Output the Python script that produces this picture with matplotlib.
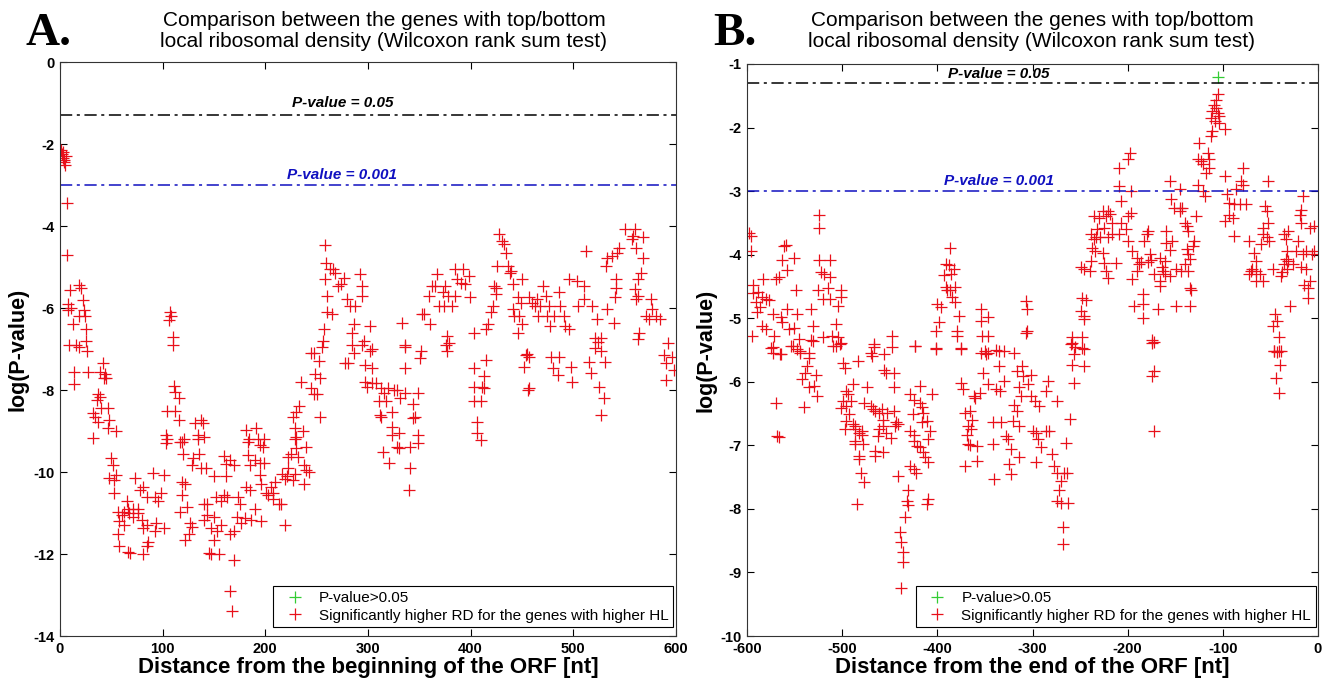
import numpy as np
import matplotlib
matplotlib.use("Agg")
import matplotlib.pyplot as plt

plt.rcParams['font.family'] = ['Liberation Sans', 'DejaVu Sans']
plt.rcParams['axes.unicode_minus'] = False

# Panel A: distance from the beginning of the ORF [nt] vs log(P-value)
a_pts = [
    (1, -2.15), (2, -2.25), (3, -2.35), (4, -2.4), (5, -2.5), (3, -2.2), (4, -2.45), (6, -2.3),
    (7, -3.45), (7, -4.7), (10, -5.55), (8, -5.9), (8, -6.05), (13, -6.4), (16, -6.9), (19, -5.45),
    (21, -5.5), (22, -5.8), (23, -6.05), (24, -6.2), (25, -6.5), (25, -6.8), (26, -7.05), (19, -6.95),
    (19, -6.2), (11, -6.0), (9, -6.9), (14, -7.57), (14, -7.85), (27, -7.55), (42, -7.35), (39, -7.55),
    (44, -7.6), (45, -7.7), (43, -7.7), (37, -8.1), (39, -8.16), (36, -8.24), (32, -8.57), (34, -8.65),
    (40, -8.45), (37, -8.77), (47, -8.45), (48, -8.73), (47, -8.93), (55, -9.0), (32, -9.18),
    (50, -9.67), (52, -9.83), (48, -10.15), (53, -10.2), (55, -10.07), (53, -10.5),
    (57, -10.97), (60, -11.05), (62, -10.97), (58, -11.2), (65, -10.7), (66, -10.9), (57, -11.5),
    (58, -11.8), (66, -11.94), (68, -11.98), (71, -10.9), (73, -10.15), (76, -10.9), (78, -10.44),
    (81, -10.36), (85, -10.6), (80, -11.16), (85, -11.3), (81, -11.37), (85, -11.8), (81, -12.0),
    (86, -11.7), (91, -10.03), (93, -10.6), (96, -10.7), (98, -10.5), (101, -10.07), (94, -11.25),
    (93, -11.45), (101, -11.37), (71, -11.1), (76, -11.0), (62, -11.3), (67, -11.0),
    (104, -8.5), (112, -8.5), (103, -9.1), (104, -9.2), (103, -9.3), (111, -7.9), (112, -8.04),
    (116, -8.2), (116, -8.73), (110, -6.9), (107, -6.1), (106, -6.3), (110, -6.7), (108, -6.2),
    (117, -9.26), (119, -9.26), (121, -9.2), (120, -9.55), (119, -10.24), (122, -10.3), (119, -10.56),
    (117, -10.97), (124, -10.85), (122, -11.65), (126, -11.5), (127, -11.25), (129, -11.33),
    (132, -8.8), (134, -9.1), (134, -9.2), (135, -9.55), (137, -8.73), (139, -8.8), (140, -9.15),
    (130, -9.67), (129, -9.83), (137, -9.9), (142, -9.9), (140, -10.77), (143, -10.77), (143, -11.05),
    (140, -11.16), (147, -11.37), (150, -11.1), (145, -11.98), (147, -12.0), (155, -12.0),
    (150, -11.66), (153, -11.45), (150, -10.1), (152, -10.6), (157, -10.7), (160, -10.56), (160, -9.6),
    (162, -9.8), (162, -10.1), (163, -10.6), (157, -11.3), (166, -11.5), (170, -11.45), (170, -12.15),
    (166, -12.9), (168, -13.4), (166, -9.7), (170, -9.83), (173, -10.6), (175, -10.77), (172, -11.1),
    (176, -11.25), (180, -11.13), (181, -8.97), (183, -9.26), (183, -9.59), (185, -9.83), (181, -10.36),
    (185, -10.44), (190, -10.9), (186, -11.16), (196, -11.2), (184, -9.2), (191, -8.93), (193, -9.2),
    (195, -9.35), (198, -9.4), (199, -9.2), (190, -9.7), (195, -9.78), (199, -9.78), (195, -10.07),
    (196, -10.3), (201, -10.52), (203, -10.56), (206, -10.36), (208, -10.5), (209, -10.24),
    (208, -10.65), (213, -10.77), (215, -10.77), (219, -11.3), (216, -10.05), (219, -10.17),
    (221, -10.1), (222, -9.9), (222, -9.63), (225, -9.55), (227, -10.2), (229, -10.05), (229, -9.2),
    (230, -9.15), (229, -8.93), (227, -8.65), (230, -8.53), (233, -8.4), (235, -7.8), (230, -9.42),
    (232, -9.63), (237, -9.0), (240, -9.38), (238, -9.83), (240, -9.95), (238, -10.3), (243, -10.0),
    (245, -7.96), (247, -8.1), (250, -8.1), (248, -7.6), (253, -8.65), (253, -7.7), (252, -7.3),
    (247, -7.1), (255, -6.95), (256, -6.8), (258, -4.46), (259, -4.9), (258, -5.3), (260, -5.7),
    (260, -6.1), (257, -6.5), (245, -7.1),
    (263, -5.06), (266, -5.06), (268, -5.14), (271, -5.46), (274, -5.42), (277, -5.26), (280, -5.79),
    (283, -5.95), (287, -5.95), (292, -5.18), (294, -5.46), (294, -5.7), (265, -6.15), (286, -6.4),
    (284, -6.6), (296, -6.8), (302, -6.44), (304, -7.0), (333, -6.36), (336, -6.9), (353, -6.15),
    (355, -6.15), (360, -6.4), (359, -5.7), (362, -5.46), (365, -5.46), (367, -5.18), (369, -5.95),
    (374, -5.95), (375, -5.46), (378, -5.7), (373, -5.62), (377, -6.68), (379, -6.85), (385, -5.06),
    (387, -5.3), (391, -5.38), (393, -5.06), (395, -5.42), (399, -5.74), (398, -5.22), (385, -5.7),
    (382, -5.95), (403, -6.6), (415, -6.52), (417, -6.4), (420, -6.1), (422, -5.95), (423, -5.46),
    (425, -5.5), (425, -5.66), (426, -4.98), (428, -4.2), (431, -4.36), (433, -4.45), (434, -4.65),
    (436, -4.98), (438, -5.14), (439, -5.1), (441, -5.42), (446, -5.74), (449, -5.87), (450, -5.3),
    (441, -6.03), (442, -6.2), (447, -6.2), (450, -6.4), (446, -6.6), (455, -7.13), (457, -5.74),
    (460, -5.87), (463, -5.95), (465, -5.79), (468, -5.95), (466, -6.2), (471, -5.46), (473, -5.7),
    (476, -5.95), (474, -6.2), (477, -6.44), (481, -6.2), (486, -5.62), (487, -5.95), (491, -6.2),
    (492, -6.44), (496, -6.52), (496, -5.3), (504, -5.34), (510, -5.46), (512, -4.6), (505, -5.95),
    (510, -5.79), (518, -5.95), (523, -6.28), (521, -6.72), (527, -6.72), (532, -4.98), (533, -4.77),
    (538, -4.73), (543, -4.65), (545, -4.53), (550, -4.08), (557, -4.32), (558, -4.24), (560, -4.08),
    (561, -4.53), (568, -4.28), (568, -4.77), (566, -5.14), (563, -5.3), (542, -5.3), (542, -5.5),
    (541, -5.74), (540, -6.36), (533, -6.03), (560, -5.54), (561, -5.79), (571, -6.2), (574, -6.28),
    (576, -5.79), (577, -6.03), (581, -6.2), (584, -6.28), (564, -6.6), (563, -6.76), (563, -5.7),
    (281, -7.35), (278, -7.35), (286, -7.1), (284, -6.9), (294, -6.9), (297, -7.39), (302, -7.06),
    (304, -7.47), (297, -7.8), (299, -7.92), (304, -7.84), (308, -7.84), (313, -7.96), (316, -8.08),
    (320, -7.96), (325, -8.0), (328, -8.0), (331, -8.2), (336, -8.08), (311, -8.28), (318, -8.28),
    (323, -8.53), (312, -8.61), (313, -8.65), (344, -8.33), (349, -8.08), (346, -8.65), (344, -8.69),
    (323, -8.9), (323, -9.1), (330, -9.06), (349, -9.1), (349, -9.3), (341, -9.38), (328, -9.38),
    (330, -9.42), (315, -9.5), (321, -9.79), (341, -9.91), (340, -10.44), (336, -7.47), (351, -7.23),
    (352, -7.06), (336, -6.94), (376, -6.9), (377, -7.06), (403, -7.47), (415, -7.27), (413, -7.67),
    (403, -7.92), (411, -7.92), (413, -7.95), (403, -8.28), (410, -8.28), (406, -8.77), (406, -9.06),
    (410, -9.22), (454, -7.14), (457, -7.19), (452, -7.43), (456, -8.0), (457, -7.96), (478, -7.19),
    (486, -7.19), (480, -7.47), (485, -7.63), (498, -7.43), (499, -7.8), (515, -7.31), (521, -6.98),
    (527, -7.06), (531, -7.31), (517, -7.59), (525, -7.92), (530, -8.2), (527, -8.61), (524, -6.82),
    (588, -7.14), (590, -7.35), (590, -7.76), (592, -6.86), (596, -7.2), (598, -7.5),
]

# Panel B: distance from the end of the ORF [nt] vs log(P-value)
b_pts = [
    (-598, -3.66), (-596, -3.71), (-596, -3.95), (-594, -4.48), (-594, -4.61), (-591, -4.75),
    (-588, -4.59), (-584, -4.67), (-580, -4.69), (-589, -4.9), (-586, -4.83), (-583, -4.38),
    (-577, -4.72), (-570, -4.38), (-566, -4.35), (-561, -3.87), (-559, -3.85), (-563, -4.08),
    (-558, -4.24), (-551, -4.06), (-549, -4.56), (-595, -5.28), (-584, -5.12), (-580, -5.17),
    (-573, -4.93), (-572, -5.28), (-564, -4.98), (-563, -5.06), (-558, -4.85), (-556, -5.17),
    (-551, -5.15), (-547, -4.93), (-545, -5.33), (-552, -5.43), (-573, -5.46), (-564, -5.57),
    (-544, -5.54), (-533, -4.85), (-531, -5.12), (-533, -5.35), (-535, -5.54),
    (-524, -3.37), (-524, -3.58), (-524, -4.08), (-513, -4.08), (-522, -4.27), (-519, -4.3),
    (-513, -4.35), (-515, -4.53), (-520, -4.69), (-513, -4.69), (-525, -4.56), (-501, -4.56),
    (-501, -4.67), (-504, -4.8), (-507, -5.09), (-511, -5.28), (-507, -5.43), (-504, -5.3),
    (-502, -5.4), (-520, -5.3), (-448, -5.28), (-448, -5.46), (-467, -5.46), (-424, -5.43),
    (-401, -5.49), (-401, -5.2), (-398, -5.06), (-400, -4.77), (-396, -4.83), (-391, -4.51),
    (-387, -3.9), (-391, -4.14), (-388, -4.16), (-393, -4.32), (-386, -4.3), (-390, -4.56),
    (-387, -4.55), (-383, -4.22), (-385, -4.67), (-381, -4.51), (-381, -4.75), (-379, -5.2),
    (-377, -4.96), (-379, -5.28), (-375, -5.49), (-354, -4.85), (-354, -5.04), (-347, -4.98),
    (-353, -5.28), (-347, -5.28), (-354, -5.54), (-349, -5.57),
    (-575, -5.47), (-573, -5.55), (-565, -5.57), (-554, -5.44), (-547, -5.49), (-544, -5.52),
    (-531, -5.36), (-570, -6.33), (-568, -6.85), (-566, -6.87), (-540, -6.4), (-542, -5.96),
    (-539, -5.86), (-537, -5.75), (-535, -5.62), (-528, -5.89), (-530, -6.07), (-526, -6.22),
    (-535, -6.09), (-510, -5.44), (-501, -5.39), (-499, -5.7), (-497, -5.78), (-483, -5.68),
    (-470, -5.55), (-469, -5.6), (-467, -5.4), (-456, -5.57), (-424, -5.44), (-401, -5.47),
    (-375, -5.47), (-350, -5.52), (-352, -5.86), (-456, -5.81), (-454, -5.86), (-446, -5.86),
    (-489, -6.04), (-496, -6.15), (-494, -6.2), (-499, -6.3), (-496, -6.38), (-491, -6.3),
    (-501, -6.41), (-493, -6.51), (-496, -6.62), (-489, -6.67), (-487, -6.7), (-497, -6.75),
    (-487, -6.75), (-482, -6.8), (-479, -6.77), (-479, -6.83), (-487, -6.93), (-487, -6.98),
    (-478, -6.98), (-474, -6.09), (-477, -6.33), (-470, -6.38), (-468, -6.43), (-465, -6.46),
    (-461, -6.49), (-458, -6.43), (-457, -6.7), (-457, -6.6), (-454, -6.8), (-462, -6.85),
    (-461, -6.75), (-466, -7.09), (-465, -7.16), (-457, -7.11), (-482, -7.16), (-482, -7.22),
    (-480, -7.43), (-477, -7.58), (-484, -7.92), (-453, -6.49), (-446, -6.46), (-443, -6.64),
    (-441, -6.67), (-444, -6.7), (-449, -6.88), (-446, -6.09), (-441, -7.48), (-439, -8.37),
    (-438, -8.52), (-436, -8.68), (-436, -8.84), (-434, -8.13), (-432, -7.87), (-431, -7.71),
    (-431, -7.94), (-429, -7.32), (-438, -9.25), (-425, -7.38), (-422, -7.43), (-429, -6.77),
    (-425, -6.83), (-425, -6.93), (-421, -7.01), (-418, -7.03), (-415, -7.11), (-413, -7.19),
    (-410, -7.27), (-408, -6.77), (-410, -6.9), (-426, -6.51), (-429, -6.2), (-425, -6.28),
    (-418, -6.33), (-416, -6.4), (-418, -6.07), (-415, -6.49), (-416, -6.64), (-411, -6.62),
    (-406, -6.2), (-411, -7.92), (-410, -7.84), (-375, -6.02), (-373, -6.12), (-371, -6.49),
    (-366, -6.46), (-362, -6.22), (-360, -6.25), (-355, -6.17), (-368, -6.7), (-365, -6.75),
    (-364, -6.6), (-369, -6.83), (-368, -6.98), (-366, -7.0), (-358, -7.01), (-371, -7.32),
    (-358, -7.24), (-342, -6.64), (-342, -6.98), (-340, -7.53), (-347, -6.04), (-338, -6.12),
    (-347, -5.55), (-338, -5.5), (-330, -5.52),
    (-105, -1.48), (-107, -1.56), (-109, -1.64), (-107, -1.69), (-111, -1.74), (-105, -1.77),
    (-104, -1.82), (-112, -1.85), (-108, -1.9), (-104, -1.93), (-98, -2.03), (-111, -2.06),
    (-112, -2.14), (-125, -2.24), (-126, -2.5), (-123, -2.52), (-121, -2.58), (-116, -2.4),
    (-114, -2.5), (-114, -2.63), (-118, -2.71), (-126, -2.9), (-121, -3.0), (-119, -3.08),
    (-98, -2.76), (-79, -2.63), (-81, -2.84), (-79, -2.9), (-53, -2.84), (-86, -2.97), (-96, -3.05),
    (-93, -3.18), (-88, -3.21), (-82, -3.21), (-76, -3.21), (-93, -3.37), (-89, -3.42), (-88, -3.71),
    (-98, -3.47), (-198, -2.4), (-200, -2.5), (-209, -2.63), (-209, -2.92), (-207, -3.16),
    (-197, -3.0), (-156, -2.84), (-154, -3.13), (-145, -2.97), (-145, -3.26), (-145, -3.31),
    (-143, -3.26), (-151, -3.26), (-140, -3.5), (-138, -3.55), (-137, -3.63), (-128, -3.39),
    (-130, -3.79), (-131, -3.86), (-137, -3.99), (-135, -4.07), (-138, -3.91), (-156, -3.92),
    (-160, -3.63), (-160, -3.81), (-153, -3.79), (-235, -3.39), (-230, -3.42), (-226, -3.31),
    (-223, -3.39), (-221, -3.31), (-219, -3.36), (-216, -3.5), (-232, -3.6), (-239, -3.68),
    (-235, -3.76), (-233, -3.73), (-229, -3.73), (-225, -3.58), (-221, -3.73), (-216, -3.68),
    (-209, -3.68), (-202, -3.6), (-200, -3.79), (-200, -3.39), (-197, -3.34), (-207, -3.5),
    (-237, -3.89), (-234, -3.94), (-226, -3.97), (-239, -4.1), (-240, -4.26), (-249, -4.2),
    (-246, -4.23), (-248, -4.68), (-244, -4.71), (-249, -4.88), (-246, -4.96), (-246, -5.01),
    (-248, -5.3), (-258, -5.3), (-260, -5.4), (-255, -5.45), (-246, -5.48), (-225, -4.13),
    (-223, -4.26), (-221, -4.36), (-212, -4.13), (-180, -3.68), (-179, -3.63), (-183, -3.79),
    (-195, -3.94), (-190, -4.05), (-188, -4.15), (-190, -4.26), (-195, -4.39), (-186, -4.12),
    (-179, -4.12), (-175, -4.08), (-172, -4.31), (-177, -3.99), (-166, -4.05), (-161, -4.1),
    (-164, -4.2), (-163, -4.26), (-161, -4.31), (-166, -4.41), (-166, -4.49), (-156, -4.33),
    (-149, -4.23), (-144, -4.26), (-137, -4.26), (-140, -4.15), (-135, -4.52), (-133, -4.55),
    (-149, -4.8), (-135, -4.8), (-168, -4.86), (-184, -4.62), (-184, -4.78), (-193, -4.81),
    (-184, -4.99), (-172, -5.38), (-174, -5.35), (-307, -4.73), (-306, -4.86), (-306, -5.2),
    (-307, -5.23), (-72, -3.79), (-67, -3.97), (-65, -4.1), (-69, -4.23), (-70, -4.26), (-72, -4.31),
    (-65, -4.26), (-65, -4.41), (-58, -4.41), (-61, -4.31), (-47, -4.23), (-56, -3.24), (-54, -3.31),
    (-53, -3.5), (-58, -3.58), (-58, -3.68), (-54, -3.73), (-51, -3.79), (-60, -3.84), (-29, -4.8),
    (-45, -4.94), (-43, -5.04), (-47, -5.12), (-46, -5.51), (-43, -5.53), (-39, -5.51), (-41, -5.3),
    (-36, -3.68), (-31, -3.63), (-34, -3.76), (-33, -3.94), (-34, -4.07), (-31, -4.1), (-33, -4.23),
    (-26, -4.15), (-23, -3.94), (-21, -3.79), (-18, -3.29), (-16, -3.08), (-19, -3.37), (-18, -3.5),
    (-18, -4.2), (-13, -4.23), (-16, -3.99), (-13, -3.94), (-15, -4.47), (-11, -4.52), (-10, -4.68),
    (-8, -4.41), (-6, -3.99), (-4, -3.94), (-8, -3.58), (-4, -3.55), (-38, -4.28), (-36, -4.15),
    (-39, -4.33),
    (-335, -5.52), (-319, -5.55), (-335, -5.75), (-330, -5.99), (-334, -6.15), (-316, -5.83),
    (-311, -5.75), (-310, -5.91), (-302, -5.89), (-305, -6.04), (-314, -6.09), (-312, -6.22),
    (-302, -6.22), (-297, -6.3), (-293, -6.38), (-286, -6.15), (-284, -5.99), (-274, -6.3),
    (-319, -6.36), (-316, -6.46), (-321, -6.62), (-314, -6.69), (-333, -6.64), (-328, -6.85),
    (-326, -6.9), (-323, -7.06), (-314, -7.19), (-325, -7.3), (-323, -7.45), (-300, -6.77),
    (-296, -6.8), (-294, -6.9), (-291, -7.03), (-296, -7.27), (-286, -6.77), (-283, -6.77),
    (-279, -7.14), (-277, -7.32), (-274, -7.43), (-270, -7.56), (-267, -7.43), (-264, -7.43),
    (-272, -7.71), (-274, -7.87), (-270, -7.9), (-263, -7.9), (-268, -8.29), (-268, -8.55),
    (-265, -6.96), (-261, -6.59), (-258, -5.73), (-256, -6.02), (-246, -5.75), (-256, -5.57),
    (-248, -5.47), (-258, -5.39), (-174, -5.39), (-172, -5.83), (-174, -5.91), (-172, -6.77),
    (-46, -5.52), (-41, -5.52), (-40, -5.73), (-44, -5.94), (-41, -6.17),
]

# only one position in B is above P = 0.05
b_ns_x = [-105]
b_ns_y = [-1.2]

line_005 = np.log10(0.05)
line_0001 = np.log10(0.001)

RED = '#e8101a'
GREEN = '#33cc33'
BLUE = '#1010c0'


def panel(ax, pts, ns_x, ns_y, xlim, ylim, xticks, yticks, xlabel, text_x, lines_y):
    x = [p[0] for p in pts]
    y = [p[1] for p in pts]
    ax.plot(ns_x, ns_y, '+', color=GREEN, ms=8.5, mew=0.9, label='P-value>0.05')
    ax.plot(x, y, '+', color=RED, ms=8.5, mew=0.9,
            label='Significantly higher RD for the genes with higher HL')
    ax.axhline(line_005, color='black', lw=1.1, ls=(0, (8, 3, 2, 3)))
    ax.axhline(line_0001, color=BLUE, lw=1.1, ls=(0, (8, 3, 2, 3)))
    ax.text(text_x, lines_y[0], 'P-value = 0.05', ha='center', va='bottom', style='italic',
            fontweight='bold', fontsize=11, color='black')
    ax.text(text_x, lines_y[1], 'P-value = 0.001', ha='center', va='bottom', style='italic',
            fontweight='bold', fontsize=11, color=BLUE)
    ax.set_xlim(*xlim)
    ax.set_ylim(*ylim)
    ax.set_xticks(xticks)
    ax.set_yticks(yticks)
    ax.tick_params(direction='in', top=True, right=True, length=5, width=0.8, pad=4)
    for lab in ax.get_xticklabels() + ax.get_yticklabels():
        lab.set_fontweight('bold')
        lab.set_fontsize(10.5)
    ax.set_xlabel(xlabel, fontsize=16, fontweight='bold', labelpad=1)
    ax.set_ylabel('log(P-value)', fontsize=15.5, fontweight='bold', labelpad=3)
    for s in ax.spines.values():
        s.set_linewidth(0.8)
        s.set_color('#333333')
    leg = ax.legend(loc='lower right', bbox_to_anchor=(0.996, 0.015), fontsize=11,
                    fancybox=False, edgecolor='black', framealpha=1, borderaxespad=0,
                    handletextpad=0.5, handlelength=2.2, borderpad=0.3, labelspacing=0.25)
    leg.get_frame().set_linewidth(0.8)


fig = plt.figure(figsize=(13.29, 6.8), dpi=100)
axA = fig.add_axes([0.0451, 0.0647, 0.4635, 0.8441])
axB = fig.add_axes([0.5621, 0.0647, 0.4296, 0.8412])

panel(axA, a_pts, [], [], (0, 600), (-14, 0), range(0, 601, 100), range(-14, 1, 2),
      'Distance from the beginning of the ORF [nt]', 275, (-1.17, -2.92))
panel(axB, b_pts, b_ns_x, b_ns_y, (-600, 0), (-10, -1), range(-600, 1, 100), range(-10, 0, 1),
      'Distance from the end of the ORF [nt]', -335, (-1.27, -2.95))

title = 'Comparison between the genes with top/bottom\nlocal ribosomal density (Wilcoxon rank sum test)'
fig.text(384 / 1329, 1 - 31 / 680, title, ha='center', va='center', fontsize=15, linespacing=1.1)
fig.text(1032 / 1329, 1 - 31 / 680, title, ha='center', va='center', fontsize=15, linespacing=1.1)
fig.text(25 / 1329, 1 - 45 / 680, 'A.', family='Liberation Serif', fontweight='bold', fontsize=34)
fig.text(713 / 1329, 1 - 45 / 680, 'B.', family='Liberation Serif', fontweight='bold', fontsize=34)

fig.savefig('out.png', dpi=100)
